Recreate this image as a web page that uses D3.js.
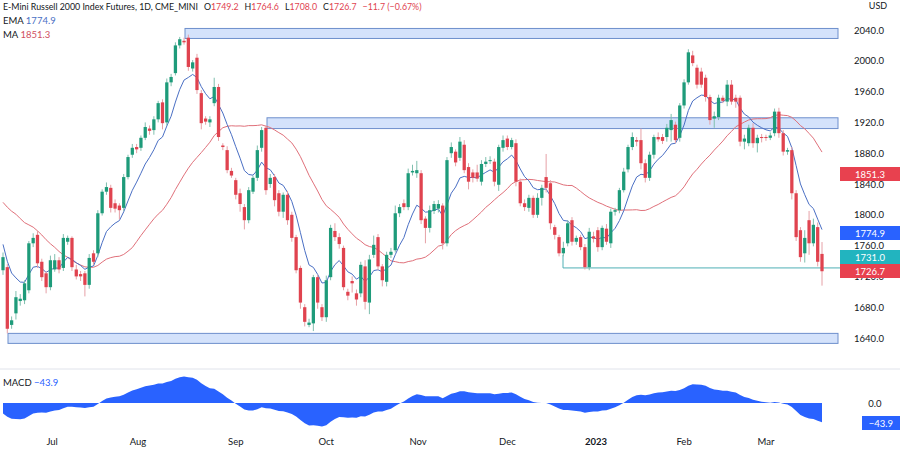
<!DOCTYPE html>
<html><head><meta charset="utf-8">
<script src="https://cdn.jsdelivr.net/npm/d3@7"></script>
<style>
body{margin:0;background:#fff;font-family:Lato,"Noto Sans",sans-serif;}
svg text{font-family:Lato,"Noto Sans",sans-serif;}
</style></head>
<body>
<script>
// candle bodies [open, close]
var bodies = [[1728,1745],[1732,1652],[1657,1663],[1672,1693],[1688,1691],[1689,1711],[1702,1763],[1763,1770],[1774,1737],[1739,1719],
[1724,1706],[1706,1741],[1729,1741],[1741,1729],[1731,1770],[1765,1770],[1770,1732],[1729,1720],[1723,1720],[1724,1709],
[1709,1744],[1750,1739],[1750,1802],[1802,1830],[1830,1836],[1835,1809],[1815,1808],[1812,1806],[1809,1849],[1849,1875],
[1878,1887],[1888,1885],[1887,1900],[1900,1914],[1912,1909],[1910,1924],[1924,1945],[1946,1919],[1920,1972],[1972,1979],
[1984,2020],[2020,2028],[2026,2024],[2030,1992],[1990,1998],[2004,1962],[1958,1919],[1925,1921],[1920,1924],[1945,1966],
[1966,1901],[1890,1888],[1884,1858],[1857,1851],[1845,1826],[1828,1814],[1810,1793],[1793,1832],[1830,1848],[1848,1884],
[1887,1910],[1913,1832],[1840,1848],[1849,1819],[1828,1804],[1804,1826],[1826,1793],[1800,1770],[1771,1728],[1731,1686],
[1680,1661],[1657,1660],[1659,1719],[1719,1686],[1680,1667],[1667,1715],[1719,1783],[1779,1771],[1771,1762],[1757,1706],
[1700,1695],[1714,1711],[1698,1690],[1698,1735],[1733,1687],[1686,1742],[1748,1761],[1771,1733],[1733,1715],[1713,1748],
[1748,1752],[1754,1802],[1802,1810],[1815,1810],[1810,1854],[1855,1857],[1854,1858],[1854,1793],[1795,1783],[1783,1806],
[1805,1814],[1808,1814],[1812,1763],[1763,1871],[1880,1888],[1882,1868],[1874,1895],[1891,1858],[1862,1843],[1855,1848],
[1855,1847],[1843,1866],[1866,1869],[1870,1871],[1869,1843],[1839,1888],[1887,1897],[1899,1888],[1888,1897],[1893,1843],
[1843,1815],[1815,1810],[1809,1822],[1822,1800],[1800,1822],[1822,1835],[1849,1835],[1841,1789],[1784,1774],[1771,1750],
[1750,1757],[1763,1789],[1793,1765],[1765,1770],[1771,1758],[1758,1732],[1732,1778],[1772,1769],[1780,1758],[1758,1783],
[1782,1765],[1763,1804],[1804,1806],[1806,1832],[1832,1856],[1859,1888],[1888,1901],[1897,1895],[1897,1867],[1867,1848],
[1848,1878],[1878,1901],[1901,1898],[1901,1896],[1901,1913],[1910,1923],[1917,1897],[1900,1942],[1942,1972],[1972,2011],
[2007,1997],[1991,1969],[1986,1969],[1978,1953],[1953,1923],[1925,1928],[1927,1952],[1952,1948],[1947,1969],[1969,1947],
[1952,1947],[1952,1895],[1895,1899],[1893,1913],[1913,1893],[1893,1900],[1901,1900],[1901,1900],[1900,1903],[1906,1934],
[1934,1906],[1906,1882],[1882,1884],[1884,1828],[1828,1771],[1780,1745],[1750,1770],[1793,1763],[1763,1787],[1784,1739],
[1749.2,1726.7]];
// wick lengths above / below the body
var wickUp = [6,4,5,8,6,4,3,6,5,4,3,6,8,4,5,3,2,6,4,3,5,4,4,3,6,4,5,3,4,3,5,4,3,6,4,4,3,4,5,4,
4,3,4,4,3,5,4,3,4,12,4,3,5,4,3,6,4,4,3,6,4,3,5,4,4,3,5,4,3,3,4,5,3,3,4,6,4,10,5,3,
4,6,5,4,8,6,12,4,3,4,5,10,4,5,6,8,12,4,3,6,4,5,3,4,6,3,6,6,5,4,10,5,6,5,4,3,6,4,3,5,
4,5,4,3,6,4,30,4,3,3,8,4,4,3,3,4,5,6,4,3,6,4,3,3,5,3,6,4,15,5,4,3,6,4,5,8,4,3,4,4,
6,4,5,4,3,6,4,3,6,6,4,3,5,4,6,4,4,3,4,4,5,4,3,4,4,4,10,12,8,6,15.4];
var wickDn = [6,6,5,8,6,5,4,5,6,5,8,4,3,5,4,4,5,4,6,15,5,4,5,3,4,6,5,12,4,3,4,5,4,3,5,6,4,8,4,5,
3,4,3,5,4,5,8,4,6,4,5,4,4,3,6,10,12,4,3,4,5,6,5,8,6,8,6,5,4,8,6,3,10,8,5,6,4,5,6,4,
6,12,8,5,10,15,4,5,8,6,4,3,5,4,4,4,6,5,20,6,4,5,8,4,6,5,4,4,10,6,4,5,4,4,6,8,5,4,3,6,
4,5,5,4,4,10,6,8,6,4,4,4,5,4,4,3,4,5,6,4,4,6,5,4,3,4,4,6,8,6,4,5,3,4,6,15,4,5,4,3,
4,5,4,6,6,12,4,3,6,4,8,6,10,4,6,12,6,4,3,4,6,5,4,8,5,6,12,15,4,6,18.7];
// closes before the visible window, used for the moving averages
var priorCloses = [1830,1840,1820,1810,1860,1870,1850,1860,1880,1880,1890,1900,1880,1890,1900,1870,1850,1820,1800,1780,
1760,1740,1730,1700,1720,1750,1770,1790,1780,1750];
var priceTicks = [1640,1680,1720,1760,1800,1840,1880,1920,1960,2000,2040];
var monthTicks = [[11.4,'Jul'],[31.3,'Aug'],[54,'Sep'],[75,'Oct'],[96.3,'Nov'],[117,'Dec'],[137.6,'2023'],[158,'Feb'],[177,'Mar']];
var zones = [[185,2042,2029],[267,1926,1912],[8,1646,1633]]; // left px, top, bottom price
var supportLevel = 1731.0;

var W = 900, H = 452, plotR = 840, fs = 9.5;
var svg = d3.select('body').append('svg').attr('width', W).attr('height', H);

var x = d3.scaleLinear().domain([0, bodies.length - 1]).range([3, 822]);
var y = d3.scaleLinear().domain([1640, 2040]).range([338, 30]);
var step = x(1) - x(0);

svg.selectAll('rect.zone').data(zones).enter().append('rect')
  .attr('x', d => d[0]).attr('width', d => 838 - d[0])
  .attr('y', d => y(d[1])).attr('height', d => y(d[2]) - y(d[1]))
  .attr('fill', '#d4e2fb').attr('stroke', '#6e8fcc').attr('stroke-width', 1);

svg.append('path').attr('d', 'M563,' + (y(supportLevel) - 13) + 'V' + y(supportLevel) + 'H' + plotR)
  .attr('fill', 'none').attr('stroke', '#4fb0b5').attr('stroke-width', 1);

// indicators
var closes = priorCloses.concat(bodies.map(d => d[1]));
var off = priorCloses.length;
function emaOf(arr, n){ var k = 2/(n+1), out = [], e = arr[0]; arr.forEach((v,i) => { e = i ? v*k + e*(1-k) : v; out.push(e); }); return out; }
var ema = emaOf(closes, 9).slice(off);
var ma = closes.map((v,i) => d3.mean(closes.slice(Math.max(0,i-29), i+1))).slice(off);
var e12 = emaOf(closes, 12), e26 = emaOf(closes, 26);
var macd = e12.map((v,i) => v - e26[i]).slice(off);

var line = d3.line().x((d,i) => x(i)).y(d => y(d));
svg.append('path').attr('d', line(ma)).attr('fill','none').attr('stroke','#e0707a').attr('stroke-width',1);
svg.append('path').attr('d', line(ema)).attr('fill','none').attr('stroke','#4a6fc4').attr('stroke-width',1);

// candles
var c = svg.append('g').selectAll('g').data(bodies).enter().append('g');
c.append('line')
  .attr('x1', (d,i) => x(i)).attr('x2', (d,i) => x(i))
  .attr('y1', (d,i) => y(Math.max(d[0],d[1]) + wickUp[i]))
  .attr('y2', (d,i) => y(Math.min(d[0],d[1]) - wickDn[i]))
  .attr('stroke', d => d[1] >= d[0] ? '#7fbfae' : '#e6a0a6').attr('stroke-width', 1);
c.append('rect')
  .attr('x', (d,i) => x(i) - step*0.38).attr('width', step*0.76)
  .attr('y', d => y(Math.max(d[0],d[1])))
  .attr('height', d => Math.max(1, Math.abs(y(d[0]) - y(d[1]))))
  .attr('fill', d => d[1] >= d[0] ? '#1e9b7a' : '#e0434f');

// price axis
svg.selectAll('text.pt').data(priceTicks).enter().append('text')
  .attr('x', 869).attr('y', d => y(d) + 3.5).attr('text-anchor','middle')
  .attr('font-size', fs).attr('fill', '#131722').text(d => d.toFixed(1));
svg.append('text').attr('x', 878).attr('y', 9).attr('text-anchor','middle').attr('font-size', 9).attr('fill','#131722').text('USD');

var tags = [[1851.3, '#e8414f', 174], [1774.9, '#2962ff', 233], [1731.0, '#22b4bf', 257], [1726.7, '#e8414f', 271]];
tags.forEach(t => {
  svg.append('rect').attr('x', 840).attr('y', t[2] - 7).attr('width', 60).attr('height', 14).attr('fill', t[1]);
  svg.append('text').attr('x', 870).attr('y', t[2] + 3.5).attr('text-anchor','middle').attr('font-size', fs).attr('fill','#fff').text(t[0].toFixed(1));
});

// legend
var leg = svg.append('text').attr('x', 3).attr('y', 10).attr('font-size', 8.8).attr('fill', '#131722');
leg.append('tspan').text('E-Mini Russell 2000 Index Futures, 1D, CME_MINI');
[['O','1749.2'],['H','1764.6'],['L','1708.0'],['C','1726.7']].forEach(p => {
  leg.append('tspan').attr('dx', 6).text(p[0]);
  leg.append('tspan').attr('fill', '#e0434f').text(p[1]);
});
leg.append('tspan').attr('dx', 6).attr('fill', '#e0434f').text('\u221211.7 (\u22120.67%)');
var e1 = svg.append('text').attr('x', 3).attr('y', 24).attr('font-size', fs).attr('fill', '#131722');
e1.append('tspan').text('EMA  '); e1.append('tspan').attr('fill', '#4a6fc4').text('1774.9');
var e2 = svg.append('text').attr('x', 3).attr('y', 38).attr('font-size', fs).attr('fill', '#131722');
e2.append('tspan').text('MA  '); e2.append('tspan').attr('fill', '#d05060').text('1851.3');

// MACD pane
svg.append('line').attr('x1', 0).attr('x2', W).attr('y1', 369).attr('y2', 369).attr('stroke', '#e0e3eb');
var ym = d3.scaleLinear().domain([-43.9, 0]).range([422, 403]);
svg.append('path').attr('d', d3.area().x((d,i) => x(i)).y0(ym(0)).y1(d => ym(d))(macd)).attr('fill', '#2962ff');
var m1 = svg.append('text').attr('x', 3).attr('y', 386).attr('font-size', fs).attr('fill', '#131722');
m1.append('tspan').text('MACD  '); m1.append('tspan').attr('fill', '#2962ff').text('\u221243.9');
svg.append('text').attr('x', 875).attr('y', ym(0) + 3.5).attr('text-anchor','middle').attr('font-size', fs).attr('fill','#131722').text('0.0');
svg.append('rect').attr('x', 862).attr('y', 416).attr('width', 38).attr('height', 14).attr('fill', '#2962ff');
svg.append('text').attr('x', 881).attr('y', 426.5).attr('text-anchor','middle').attr('font-size', fs).attr('fill','#fff').text('\u221243.9');

// time axis
svg.selectAll('text.mt').data(monthTicks).enter().append('text')
  .attr('x', d => x(d[0])).attr('y', 445).attr('text-anchor','middle').attr('font-size', fs)
  .attr('font-weight', d => d[1] === '2023' ? 'bold' : 'normal').attr('fill', '#131722').text(d => d[1]);
</script>
</body></html>
